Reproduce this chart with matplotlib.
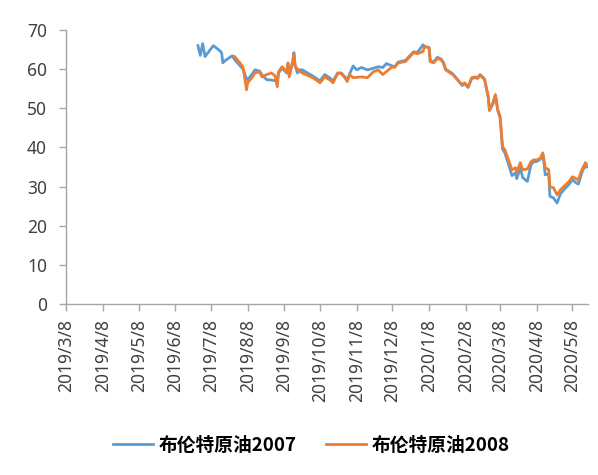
import matplotlib
matplotlib.use('Agg')
import matplotlib.pyplot as plt
import pandas as pd

# 布伦特原油2007 (blue)
dates_2007 = ['2019-06-27', '2019-06-29', '2019-07-01', '2019-07-03', '2019-07-10', '2019-07-15', '2019-07-17',
              '2019-07-18', '2019-07-21', '2019-07-26', '2019-07-28', '2019-08-04', '2019-08-07', '2019-08-08',
              '2019-08-12', '2019-08-14', '2019-08-18', '2019-08-20', '2019-08-24', '2019-08-28', '2019-08-31',
              '2019-09-02', '2019-09-03', '2019-09-06', '2019-09-10', '2019-09-11', '2019-09-12', '2019-09-15',
              '2019-09-16', '2019-09-17', '2019-09-19', '2019-09-21', '2019-09-23', '2019-10-02', '2019-10-08',
              '2019-10-12', '2019-10-16', '2019-10-19', '2019-10-23', '2019-10-26', '2019-10-29', '2019-10-31',
              '2019-11-02', '2019-11-05', '2019-11-08', '2019-11-12', '2019-11-17', '2019-11-22', '2019-11-26',
              '2019-11-30', '2019-12-03', '2019-12-08', '2019-12-10', '2019-12-13', '2019-12-19', '2019-12-26',
              '2019-12-29', '2020-01-03', '2020-01-04', '2020-01-08', '2020-01-09', '2020-01-12', '2020-01-15',
              '2020-01-18', '2020-01-20', '2020-01-22', '2020-01-28', '2020-02-01', '2020-02-05', '2020-02-07',
              '2020-02-10', '2020-02-13', '2020-02-16', '2020-02-18', '2020-02-20', '2020-02-23', '2020-02-24',
              '2020-02-27', '2020-02-28', '2020-03-02', '2020-03-04', '2020-03-06', '2020-03-08', '2020-03-10',
              '2020-03-12', '2020-03-15', '2020-03-18', '2020-03-21', '2020-03-22', '2020-03-25', '2020-03-27',
              '2020-03-31', '2020-04-03', '2020-04-05', '2020-04-08', '2020-04-11', '2020-04-13', '2020-04-14',
              '2020-04-15', '2020-04-18', '2020-04-19', '2020-04-22', '2020-04-25', '2020-04-28', '2020-05-02',
              '2020-05-05', '2020-05-08', '2020-05-10', '2020-05-13', '2020-05-16', '2020-05-19', '2020-05-20']
brent_2007 = [66.0, 63.5, 66.5, 63.2, 66.0, 64.8, 64.2,
              61.6, 62.4, 63.4, 62.4, 60.0, 57.5, 57.3,
              58.8, 59.8, 59.5, 58.5, 57.3, 57.2, 57.0,
              57.0, 59.0, 60.2, 59.0, 61.0, 58.5, 62.0,
              64.2, 61.0, 59.0, 59.8, 59.8, 58.2, 57.0,
              58.6, 57.8, 57.0, 59.0, 59.0, 58.0, 57.3,
              58.8, 60.8, 59.8, 60.4, 59.8, 60.2, 60.6,
              60.4, 61.4, 60.8, 60.6, 61.8, 62.2, 64.4,
              64.2, 66.2, 65.8, 65.5, 62.2, 61.8, 63.0,
              62.6, 61.8, 60.0, 58.8, 57.3, 55.8, 56.3,
              55.3, 57.6, 57.8, 57.6, 58.4, 57.6, 57.1,
              52.7, 49.4, 51.2, 53.3, 49.4, 47.6, 39.6,
              38.6, 35.8, 32.8, 33.5, 32.0, 34.8, 32.3,
              31.3, 35.5, 36.3, 36.4, 37.0, 38.2, 36.0,
              33.0, 33.3, 27.5, 27.1, 25.8, 28.2, 29.6,
              30.5, 31.8, 31.2, 30.6, 33.6, 35.5, 35.0]

# 布伦特原油2008 (orange)
dates_2008 = ['2019-07-28', '2019-08-04', '2019-08-07', '2019-08-08', '2019-08-12', '2019-08-14', '2019-08-18',
              '2019-08-20', '2019-08-24', '2019-08-28', '2019-08-31', '2019-09-02', '2019-09-03', '2019-09-06',
              '2019-09-10', '2019-09-11', '2019-09-12', '2019-09-15', '2019-09-16', '2019-09-17', '2019-09-23',
              '2019-10-02', '2019-10-08', '2019-10-12', '2019-10-16', '2019-10-19', '2019-10-23', '2019-10-26',
              '2019-10-29', '2019-10-31', '2019-11-02', '2019-11-05', '2019-11-12', '2019-11-17', '2019-11-22',
              '2019-11-26', '2019-11-30', '2019-12-08', '2019-12-10', '2019-12-13', '2019-12-19', '2019-12-26',
              '2019-12-29', '2020-01-03', '2020-01-04', '2020-01-08', '2020-01-09', '2020-01-12', '2020-01-15',
              '2020-01-18', '2020-01-20', '2020-01-22', '2020-01-28', '2020-02-01', '2020-02-05', '2020-02-07',
              '2020-02-10', '2020-02-13', '2020-02-16', '2020-02-18', '2020-02-20', '2020-02-23', '2020-02-24',
              '2020-02-27', '2020-02-28', '2020-03-02', '2020-03-04', '2020-03-06', '2020-03-08', '2020-03-10',
              '2020-03-12', '2020-03-15', '2020-03-18', '2020-03-21', '2020-03-22', '2020-03-25', '2020-03-27',
              '2020-03-31', '2020-04-03', '2020-04-05', '2020-04-08', '2020-04-11', '2020-04-13', '2020-04-14',
              '2020-04-15', '2020-04-18', '2020-04-19', '2020-04-22', '2020-04-25', '2020-04-28', '2020-05-02',
              '2020-05-05', '2020-05-08', '2020-05-10', '2020-05-13', '2020-05-16', '2020-05-19', '2020-05-20']
brent_2008 = [63.2, 60.6, 54.7, 56.5, 58.0, 59.0, 59.3,
              58.0, 58.6, 59.0, 58.3, 55.5, 59.3, 60.6,
              59.3, 61.6, 58.0, 61.9, 63.7, 60.6, 59.0,
              57.8, 56.5, 58.0, 57.3, 56.5, 59.0, 58.8,
              57.8, 56.8, 58.6, 57.8, 58.0, 57.8, 59.3,
              59.8, 58.6, 60.6, 60.4, 61.6, 61.9, 64.2,
              63.9, 64.5, 65.7, 65.5, 61.9, 61.6, 62.7,
              62.4, 61.6, 59.8, 58.6, 57.3, 56.0, 56.5,
              55.5, 57.8, 58.0, 57.8, 58.6, 57.8, 57.3,
              52.9, 49.6, 51.4, 53.5, 49.6, 47.8, 40.2,
              39.4, 36.8, 34.3, 34.8, 33.5, 36.1, 34.3,
              34.5, 36.3, 36.8, 36.8, 37.3, 38.6, 36.8,
              34.8, 34.3, 29.9, 29.7, 27.9, 29.2, 30.4,
              31.2, 32.5, 32.2, 31.7, 34.3, 36.1, 35.6]

tick_dates = pd.date_range('2019-03-01', '2020-05-01', freq='MS') + pd.Timedelta(days=7)
x_start, x_end = '2019-03-08', '2020-05-21'

plt.rcParams['font.family'] = ['Noto Sans CJK SC', 'DejaVu Sans']

fig = plt.figure(figsize=(5.98, 4.75), dpi=100)
ax = fig.add_axes([0.111, 0.36, 0.872, 0.577])

ax.plot(pd.to_datetime(dates_2007), brent_2007, color='#5B9BD5', lw=2.0, label='布伦特原油2007')
ax.plot(pd.to_datetime(dates_2008), brent_2008, color='#ED7D31', lw=2.0, label='布伦特原油2008')

ax.set_xlim(pd.Timestamp(x_start), pd.Timestamp(x_end))
ax.set_ylim(0, 70)
ax.set_yticks(range(0, 71, 10))
ax.set_xticks(tick_dates)
ax.set_xticklabels([f'{d.year}/{d.month}/{d.day}' for d in tick_dates], rotation=90,
                   family='Noto Sans', fontsize=12.5, color='#404040')
for lab in ax.get_yticklabels():
    lab.set_family('Noto Sans')
    lab.set_fontsize(12.5)
    lab.set_color('#404040')

for s in ['top', 'right']:
    ax.spines[s].set_visible(False)
for s in ['left', 'bottom']:
    ax.spines[s].set_color('#A6A6A6')
    ax.spines[s].set_linewidth(1.0)
ax.tick_params(axis='both', direction='out', length=5, width=1.0, color='#A6A6A6')
ax.tick_params(axis='y', pad=9)
ax.tick_params(axis='x', pad=6)

fig.legend(loc='center', bbox_to_anchor=(0.521, 0.062), ncol=2, frameon=False,
           handlelength=2.1, columnspacing=1.6, handletextpad=0.3,
           prop={'size': 13.5, 'weight': 'bold'})

fig.savefig('out.png', dpi=100)
